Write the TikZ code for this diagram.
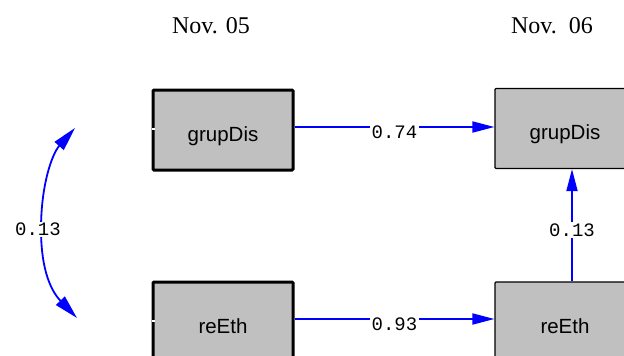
\documentclass[tikz,border=0pt]{standalone}
\usepackage{fontspec}
\setmainfont{Liberation Serif}
\newfontfamily\boxfont{Liberation Sans}
\newfontfamily\numfont{Liberation Mono}
\usetikzlibrary{arrows.meta}
\definecolor{boxgray}{RGB}{192,192,192}
\definecolor{pathblue}{RGB}{0,0,255}
\tikzset{
  varbox/.style={draw=black, fill=boxgray, minimum width=140pt, minimum height=80pt,
    inner sep=0pt, font=\boxfont\fontsize{20.5}{24}\selectfont,
    text height=22pt, text depth=0pt, rounded corners=1pt},
  thickbox/.style={varbox, line width=3pt},
  thinbox/.style={varbox, line width=1.2pt},
  path/.style={draw=pathblue, line width=1.8pt, -{Triangle[length=22pt,width=11pt]}},
  covpath/.style={draw=pathblue, line width=1.8pt,
    {Triangle[length=24pt,width=12pt]}-{Triangle[length=24pt,width=12pt]}},
  coef/.style={fill=white, inner sep=1.5pt, font=\numfont\fontsize{19}{22}\selectfont},
  wavelabel/.style={font=\fontsize{24}{28}\selectfont, anchor=base}
}
\begin{document}
\begin{tikzpicture}[x=1pt, y=-1pt]
  \useasboundingbox (0,0) rectangle (624,356);
  \clip (0,0) rectangle (624,356);

  % wave headings
  \node[wavelabel] (h1) at (211,33) {Nov. 05};
  \node[wavelabel] (h2) at (552,33) {Nov.\ \ 06};

  % observed variables, first wave
  \node[thickbox] (g5) at (223,130) {grupDis};
  \node[thickbox] (r5) at (223,322) {reEth};

  % observed variables, second wave
  \node[thinbox] (g6) at (565,128.5) {grupDis};
  \node[thinbox] (r6) at (565,322) {reEth};

  % small port marks on the exogenous boxes
  \draw[white, line width=1.2pt] ([yshift=1pt]g5.west) -- +(3,0);
  \draw[white, line width=1.2pt] ([yshift=1pt]r5.west) -- +(3,0);

  % stability paths
  \draw[path] ([yshift=3pt]g5.east) -- node[coef, pos=0.5, yshift=-5pt] {0.74} ([yshift=1.5pt]g6.west);
  \draw[path] ([yshift=3pt]r5.east) -- node[coef, pos=0.5, yshift=-5pt] {0.93} ([yshift=3pt]r6.west);

  % cross-sectional path
  \draw[path] ([xshift=7pt]r6.north) -- node[coef, pos=0.5, yshift=-5pt] {0.13} ([xshift=7pt]g6.south);

  % covariance between the first-wave variables
  \coordinate (ct) at (75,128);
  \coordinate (cm) at (41,229);
  \coordinate (cb) at (77,318);
  \draw[covpath] (ct) .. controls (52,154) and (41,185) .. (cm)
                      .. controls (41,272) and (52,292) .. (cb);
  \node[coef] (cv) at (38,229.5) {0.13};
\end{tikzpicture}
\end{document}
